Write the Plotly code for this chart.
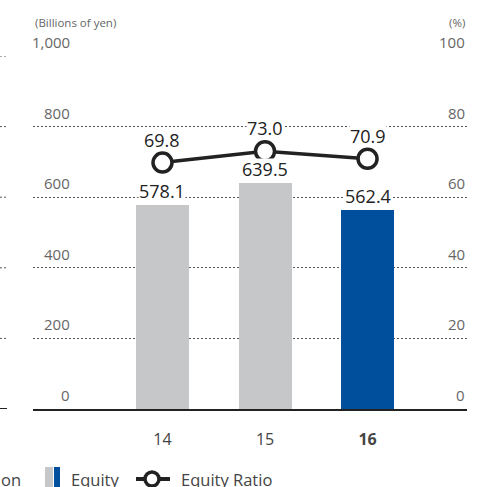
import plotly.graph_objects as go

# ---- data ----
years = ["14", "15", "16"]
year_labels = ["14", "15", "<b>16</b>"]
equity = [578.1, 639.5, 562.4]
equity_ratio = [69.8, 73.0, 70.9]
left_ticks = [0, 200, 400, 600, 800, 1000]
left_tick_text = ["0", "200", "400", "600", "800", "1,000"]
right_ticks = [0, 20, 40, 60, 80, 100]
right_tick_text = ["0", "20", "40", "60", "80", "100"]

GRAY = "#c6c7c9"
BLUE = "#004f9c"
DARK = "#222222"
TICK = "#666666"
FONT = "Open Sans"

xpos = list(range(len(years)))
bar_colors = [GRAY, GRAY, BLUE]

fig = go.Figure()
fig.add_trace(go.Bar(x=xpos, y=equity, marker=dict(color=bar_colors, line=dict(width=0)),
                     width=0.517, hoverinfo="skip", showlegend=False))
fig.add_trace(go.Scatter(x=xpos, y=equity_ratio, yaxis="y2", mode="lines+markers",
                         line=dict(color=DARK, width=3.5),
                         marker=dict(symbol="circle", size=19, color="white",
                                     line=dict(color=DARK, width=3.5)),
                         cliponaxis=False, hoverinfo="skip", showlegend=False))

ann = []
# left axis tick labels
for v, t in zip(left_ticks, left_tick_text):
    ann.append(dict(x=0.0899, xref="paper", y=v, yref="y", text=t, showarrow=False,
                    xanchor="right", yanchor="bottom", yshift=2,
                    font=dict(family=FONT, size=15, color=TICK)))
# right axis tick labels
for v, t in zip(right_ticks, right_tick_text):
    ann.append(dict(x=1.0, xref="paper", y=v, yref="y2", text=t, showarrow=False,
                    xanchor="right", yanchor="bottom", yshift=2,
                    font=dict(family=FONT, size=15, color=TICK)))
ann.append(dict(x=0.0, xref="paper", y=1000, yref="y", text="(Billions of yen)", showarrow=False,
                xanchor="left", yanchor="bottom", yshift=24,
                font=dict(family=FONT, size=11.5, color=TICK)))
ann.append(dict(x=1.0, xref="paper", y=100, yref="y2", text="(%)", showarrow=False,
                xanchor="right", yanchor="bottom", yshift=24,
                font=dict(family=FONT, size=11.5, color=TICK)))
# data labels
for x, v in zip(xpos, equity):
    ann.append(dict(x=x, y=v, xref="x", yref="y", text=f"{v:.1f}", showarrow=False,
                    xanchor="center", yanchor="bottom", yshift=3, bgcolor="white",
                    borderpad=0, height=20, valign="middle",
                    font=dict(family=FONT, size=18, color=DARK)))
for x, v in zip(xpos, equity_ratio):
    ann.append(dict(x=x, y=v, xref="x", yref="y2", text=f"{v:.1f}", showarrow=False,
                    xanchor="center", yanchor="bottom", yshift=12, bgcolor="white",
                    borderpad=0, height=20, valign="middle",
                    font=dict(family=FONT, size=18, color=DARK)))

# legend (manual)
def px_x(p):
    return (p - 33) / 434.0

def px_y(p):
    return (409 - p) / 353.0

shapes = []
shapes.append(dict(type="rect", xref="paper", yref="paper", x0=px_x(45), x1=px_x(53),
                   y0=px_y(487), y1=px_y(467), fillcolor=GRAY, line=dict(width=0)))
shapes.append(dict(type="rect", xref="paper", yref="paper", x0=px_x(54), x1=px_x(60),
                   y0=px_y(487), y1=px_y(467), fillcolor=BLUE, line=dict(width=0)))
shapes.append(dict(type="line", xref="paper", yref="paper", x0=px_x(136), x1=px_x(170),
                   y0=px_y(479), y1=px_y(479), line=dict(color=DARK, width=4)))
shapes.append(dict(type="circle", xref="paper", yref="paper", x0=px_x(145), x1=px_x(159),
                   y0=px_y(486), y1=px_y(472), fillcolor="white", line=dict(color=DARK, width=3.5)))
ann.append(dict(x=px_x(69), xref="paper", y=px_y(479), yref="paper", text="Equity",
                showarrow=False, xanchor="left", yanchor="middle",
                font=dict(family=FONT, size=16.5, color="#444")))
ann.append(dict(x=px_x(179), xref="paper", y=px_y(479), yref="paper", text="Equity Ratio",
                showarrow=False, xanchor="left", yanchor="middle",
                font=dict(family=FONT, size=16.5, color="#444")))
# fragment of neighbouring chart at the left edge
ann.append(dict(x=px_x(-1), xref="paper", y=px_y(479), yref="paper", text="on",
                showarrow=False, xanchor="left", yanchor="middle",
                font=dict(family=FONT, size=16.5, color="#444")))
for v in left_ticks[1:]:
    shapes.append(dict(type="line", xref="paper", yref="y", x0=px_x(0), x1=px_x(8),
                       y0=v, y1=v, line=dict(color="#555", width=1, dash="2px,2px")))
shapes.append(dict(type="line", xref="paper", yref="y", x0=px_x(0), x1=px_x(7),
                   y0=0, y1=0, line=dict(color=DARK, width=2)))

fig.update_layout(
    width=487, height=487,
    margin=dict(l=33, r=20, t=56, b=78),
    paper_bgcolor="white", plot_bgcolor="white",
    bargap=0,
    xaxis=dict(range=[-1.263, 2.97], tickvals=xpos, ticktext=year_labels,
               showgrid=False, zeroline=False, showline=True, linecolor=DARK, linewidth=2,
               ticks="", ticklabelstandoff=15,
               tickfont=dict(family=FONT, size=16, color="#444")),
    yaxis=dict(range=[0, 1000], tickvals=left_ticks[1:], showticklabels=False,
               showgrid=True, gridcolor="#555", gridwidth=1, griddash="2px,2px",
               zeroline=False, showline=False),
    yaxis2=dict(range=[0, 100], overlaying="y", side="right", showgrid=False,
                showticklabels=False, zeroline=False, showline=False),
    annotations=ann, shapes=shapes,
    font=dict(family=FONT),
)

fig.write_html("out.html")
